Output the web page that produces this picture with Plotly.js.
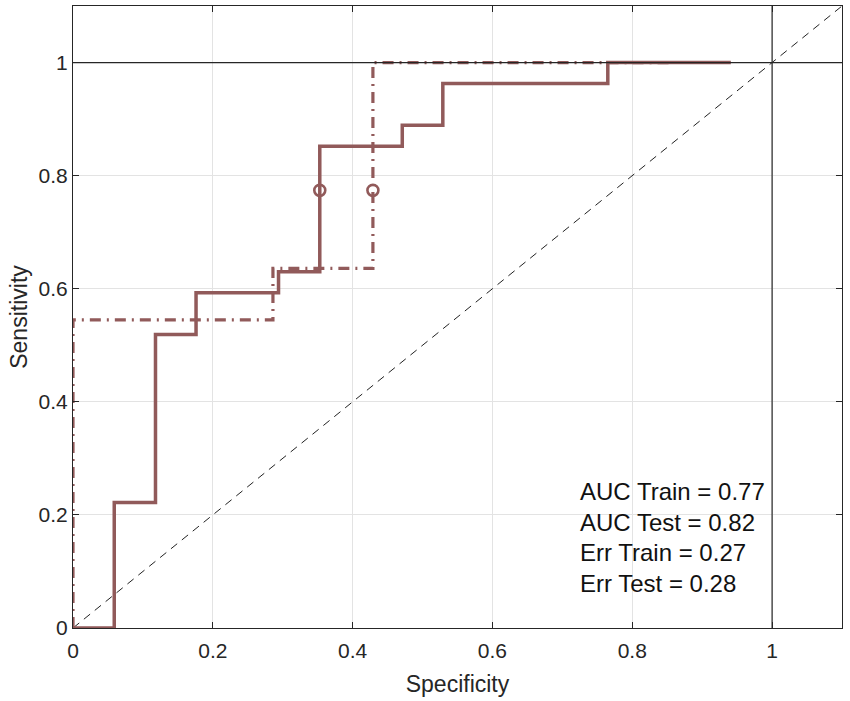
<!DOCTYPE html>
<html>
<head>
<meta charset="utf-8">
<script src="https://cdn.plot.ly/plotly-3.0.1.min.js"></script>
<style>html,body{margin:0;padding:0;background:#fff;}#chart{width:850px;height:701px;}</style>
</head>
<body>
<div id="chart"></div>
<script>
// Train ROC (step curve)
const trainX = [0, 0.059, 0.059, 0.118, 0.118, 0.176, 0.176, 0.294, 0.294, 0.353, 0.353, 0.471, 0.471, 0.529, 0.529, 0.765, 0.765, 0.941];
const trainY = [0, 0, 0.222, 0.222, 0.519, 0.519, 0.593, 0.593, 0.630, 0.630, 0.852, 0.852, 0.889, 0.889, 0.963, 0.963, 1, 1];
// Test ROC (step curve)
const testX = [0, 0, 0.286, 0.286, 0.429, 0.429, 0.857];
const testY = [0, 0.545, 0.545, 0.636, 0.636, 1, 1];
// Operating points
const opX = [0.353, 0.429];
const opY = [0.774, 0.774];
// Chance diagonal
const diagX = [0, 1.1];
const diagY = [0, 1.1];
// Stats text
const statLabels = ["AUC Train = 0.77", "AUC Test = 0.82", "Err Train = 0.27", "Err Test = 0.28"];
const tickVals = [0, 0.2, 0.4, 0.6, 0.8, 1];
const tickText = ["0", "0.2", "0.4", "0.6", "0.8", "1"];

const col = '#915a5a';
const font = 'Arial, "Liberation Sans", sans-serif';

const traces = [
  {x: diagX, y: diagY, mode: 'lines', line: {color: '#222', width: 1, dash: '8px,6px'}, hoverinfo: 'skip'},
  {x: testX, y: testY, mode: 'lines', line: {color: col, width: 3.2, dash: '11px,6px,2px,6px'}},
  {x: trainX, y: trainY, mode: 'lines', line: {color: col, width: 3.5}},
  {x: opX, y: opY, mode: 'markers', marker: {symbol: 'circle-open', size: 11, color: col, line: {width: 2.6, color: col}}}
];

const layout = {
  width: 850, height: 701,
  margin: {l: 73, r: 8, t: 6, b: 73},
  paper_bgcolor: '#fff', plot_bgcolor: '#fff',
  showlegend: false,
  font: {family: font, size: 21, color: '#262626'},
  xaxis: {
    range: [0, 1.1], tickvals: tickVals, ticktext: tickText,
    showgrid: true, gridcolor: '#e3e3e3', gridwidth: 1, zeroline: false,
    showline: true, linecolor: '#262626', linewidth: 1, mirror: 'allticks',
    ticks: 'inside', ticklen: 6, tickcolor: '#262626',
    ticklabelstandoff: 4,
    tickfont: {family: font, size: 21, color: '#262626'},
    title: {text: 'Specificity', font: {family: font, size: 23, color: '#262626'}, standoff: 14},
    automargin: false, fixedrange: true
  },
  yaxis: {
    range: [0, 1.1], tickvals: tickVals, ticktext: tickText,
    showgrid: true, gridcolor: '#e3e3e3', gridwidth: 1, zeroline: false,
    showline: true, linecolor: '#262626', linewidth: 1, mirror: 'allticks',
    ticks: 'inside', ticklen: 6, tickcolor: '#262626',
    tickfont: {family: font, size: 21, color: '#262626'},
    title: {text: 'Sensitivity', font: {family: font, size: 23, color: '#262626'}, standoff: 4},
    automargin: false, fixedrange: true
  },
  shapes: [
    {type: 'line', xref: 'x', yref: 'y', x0: 0, x1: 1.1, y0: 1, y1: 1, line: {color: '#262626', width: 1.2}},
    {type: 'line', xref: 'x', yref: 'y', x0: 1, x1: 1, y0: 0, y1: 1.1, line: {color: '#262626', width: 1.2}}
  ],
  annotations: statLabels.map((t, i) => ({
    xref: 'x', yref: 'y', x: 0.722, y: 0.241 - i * 0.054,
    xanchor: 'left', yanchor: 'middle', showarrow: false, text: t,
    font: {family: font, size: 24, color: '#111'}
  }))
};

Plotly.newPlot('chart', traces, layout, {displayModeBar: false, staticPlot: true});
</script>
</body>
</html>
